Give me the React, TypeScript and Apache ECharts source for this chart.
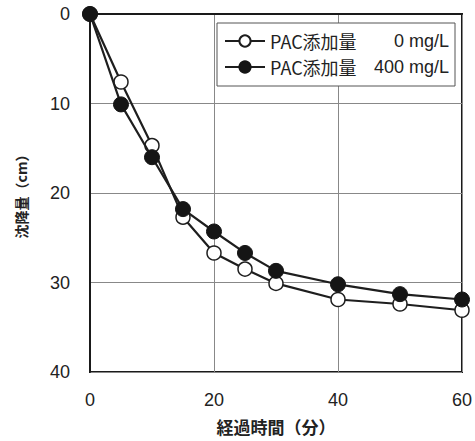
import React, { useEffect, useRef } from "react";
import * as echarts from "echarts";

const times = [0, 5, 10, 15, 20, 25, 30, 40, 50, 60];
const settle0 = [0, 7.6, 14.7, 22.7, 26.7, 28.5, 30.1, 31.9, 32.4, 33.1];
const settle400 = [0, 10.1, 16.0, 21.8, 24.3, 26.7, 28.7, 30.2, 31.3, 31.9];
const seriesNames = ["PAC添加量 0 mg/L", "PAC添加量 400 mg/L"];
const legendPrefix = "PAC添加量";
const legendDoses = ["0 mg/L", "400 mg/L"];
const xTitle = "経過時間（分）";
const yTitle = "沈降量（cm）";

const NUM_FONT = "'Liberation Sans', Arial, sans-serif";
const JP_FONT = "'Noto Sans CJK JP', 'Liberation Sans', sans-serif";

export default function App() {
  const ref = useRef<HTMLDivElement>(null);
  useEffect(() => {
    if (!ref.current) return;
    const chart = echarts.init(ref.current, undefined, { renderer: "svg" });
    const toPairs = (ys: number[]) => times.map((t, i) => [t, ys[i]]);
    chart.setOption({
      animation: false,
      backgroundColor: "#ffffff",
      grid: {
        left: 90,
        right: 8,
        top: 14,
        bottom: 69,
        containLabel: false,
        show: true,
        borderColor: "#1a1a1a",
        borderWidth: 2,
      },
      legend: {
        orient: "vertical",
        left: 217,
        top: 23,
        padding: [9, 6, 10, 7],
        itemGap: 8,
        itemWidth: 40,
        itemHeight: 14,
        borderColor: "#555",
        borderWidth: 1,
        backgroundColor: "#fff",
        data: seriesNames,
        formatter: (name: string) => {
          const i = seriesNames.indexOf(name);
          return `{a|${legendPrefix}}{b|${legendDoses[i]}}`;
        },
        textStyle: {
          color: "#222",
          fontSize: 18,
          rich: {
            a: { fontFamily: JP_FONT, fontSize: 18, width: 99, lineHeight: 20, color: "#222" },
            b: { fontFamily: NUM_FONT, fontSize: 18, width: 80, align: "right", lineHeight: 20, color: "#222" },
          },
        },
      },
      xAxis: {
        type: "value",
        min: 0,
        max: 60,
        interval: 20,
        name: xTitle,
        nameLocation: "middle",
        nameGap: 46,
        nameTextStyle: { fontFamily: JP_FONT, fontSize: 17, fontWeight: "bold", color: "#222" },
        axisLine: { show: true, lineStyle: { color: "#1a1a1a", width: 2 } },
        axisTick: { show: false },
        axisLabel: { fontFamily: NUM_FONT, fontSize: 18, color: "#222", margin: 19 },
        splitLine: { show: true, lineStyle: { color: "#888", width: 1 } },
      },
      yAxis: {
        type: "value",
        inverse: true,
        min: 0,
        max: 40,
        interval: 10,
        name: yTitle,
        nameLocation: "middle",
        nameGap: 62,
        nameRotate: 90,
        nameTextStyle: { fontFamily: JP_FONT, fontSize: 14, fontWeight: "bold", color: "#222" },
        axisLine: { show: true, lineStyle: { color: "#1a1a1a", width: 2 } },
        axisTick: { show: false },
        axisLabel: { fontFamily: NUM_FONT, fontSize: 18, color: "#222", margin: 20 },
        splitLine: { show: true, lineStyle: { color: "#888", width: 1 } },
      },
      series: [
        {
          name: seriesNames[0],
          type: "line",
          data: toPairs(settle0),
          clip: false,
          symbol: "circle",
          symbolSize: 14,
          showAllSymbol: true,
          lineStyle: { color: "#1e1e1e", width: 2.2 },
          itemStyle: { color: "#fff", borderColor: "#1e1e1e", borderWidth: 1.5 },
          z: 2,
        },
        {
          name: seriesNames[1],
          type: "line",
          data: toPairs(settle400),
          clip: false,
          symbol: "circle",
          symbolSize: 15,
          showAllSymbol: true,
          lineStyle: { color: "#1e1e1e", width: 2.2 },
          itemStyle: { color: "#151515", borderColor: "#151515", borderWidth: 1 },
          z: 3,
        },
      ],
    });
    return () => chart.dispose();
  }, []);
  return <div ref={ref} style={{ width: 475, height: 441, position: "absolute", left: 0, top: 0 }} />;
}
